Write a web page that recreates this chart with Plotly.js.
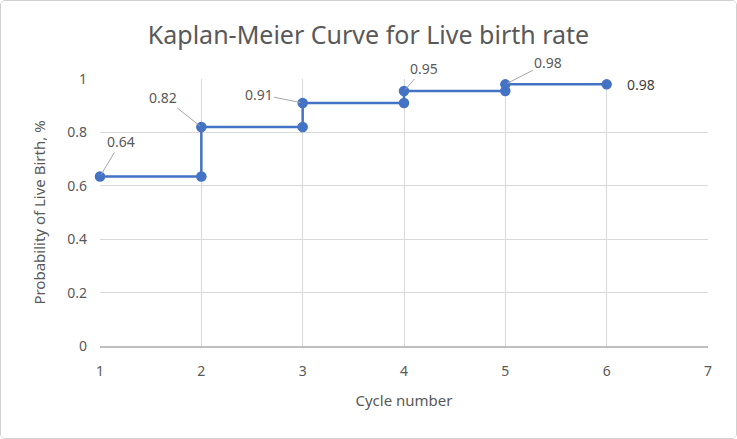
<!DOCTYPE html>
<html>
<head>
<meta charset="utf-8">
<script src="https://cdn.plot.ly/plotly-3.0.1.min.js"></script>
<style>
  html, body { margin: 0; padding: 0; background: #fff; }
  #chart { width: 735px; height: 437px; border: 1px solid #d0d0d0; border-radius: 5px; overflow: hidden; }
</style>
</head>
<body>
<div id="chart"></div>
<script>
// Kaplan-Meier step data (cycle number, probability of live birth)
const cycles = [1, 2, 2, 3, 3, 4, 4, 5, 5, 6];
const probability = [0.635, 0.635, 0.82, 0.82, 0.91, 0.91, 0.955, 0.955, 0.98, 0.98];

// Data labels
const labelCycles = [1, 2, 3, 4, 5, 6];
const labelValues = [0.635, 0.82, 0.91, 0.955, 0.98, 0.98];
const labelTexts = ["0.64", "0.82", "0.91", "0.95", "0.98", "0.98"];

const xTicks = [1, 2, 3, 4, 5, 6, 7];
const yTicks = [0, 0.2, 0.4, 0.6, 0.8, 1];

// label placement offsets (pixels) — styling only
const labelOffsets = [[21, -35], [-38, -30], [-44, -9], [20, -23], [43, -22], [34, 0]];
const labelArrows = [true, true, true, true, true, false];

const font = "Noto Sans, Open Sans, sans-serif";
const grey = "#595959";

const trace = {
  x: cycles,
  y: probability,
  type: "scatter",
  mode: "lines+markers",
  line: { color: "#4472C4", width: 2.5 },
  marker: { color: "#4472C4", size: 10.5 },
  hoverinfo: "x+y",
  showlegend: false,
  cliponaxis: false
};

const annotations = labelCycles.map((c, i) => ({
  x: c,
  y: labelValues[i],
  xref: "x",
  yref: "y",
  text: labelTexts[i],
  showarrow: true,
  arrowhead: 0,
  arrowwidth: 1,
  arrowcolor: labelArrows[i] ? "#a6a6a6" : "rgba(0,0,0,0)",
  ax: labelOffsets[i][0],
  ay: labelOffsets[i][1],
  standoff: 2,
  font: { family: font, size: 14, color: i === 5 ? "#404040" : grey }
}));

const layout = {
  width: 735,
  height: 437,
  margin: { l: 99, r: 28, t: 78, b: 92 },
  paper_bgcolor: "#ffffff",
  plot_bgcolor: "#ffffff",
  title: {
    text: "Kaplan-Meier Curve for Live birth rate",
    font: { family: font, size: 25, color: grey },
    x: 0.5, xanchor: "center",
    y: 1, yref: "paper", yanchor: "bottom",
    pad: { b: 35 }
  },
  xaxis: {
    range: [1, 7],
    tickvals: xTicks,
    ticktext: xTicks.map(String),
    showgrid: true,
    gridcolor: "#d9d9d9",
    gridwidth: 1,
    zeroline: false,
    showline: true,
    linecolor: "#bfbfbf",
    linewidth: 1.5,
    ticks: "",
    ticklabelstandoff: 12,
    tickfont: { family: font, size: 14, color: grey },
    title: { text: "Cycle number", font: { family: font, size: 15, color: grey }, standoff: 16 },
    automargin: false
  },
  yaxis: {
    range: [0, 1],
    tickvals: yTicks,
    ticktext: yTicks.map(String),
    showgrid: true,
    gridcolor: "#d9d9d9",
    gridwidth: 1,
    zeroline: false,
    showline: false,
    ticks: "",
    ticklabelstandoff: 12,
    tickfont: { family: font, size: 14, color: grey },
    title: { text: "Probability of Live Birth, %", font: { family: font, size: 15, color: grey }, standoff: 17 },
    automargin: false
  },
  annotations: annotations
};

Plotly.newPlot("chart", [trace], layout, { displayModeBar: false, staticPlot: true });
</script>
</body>
</html>
